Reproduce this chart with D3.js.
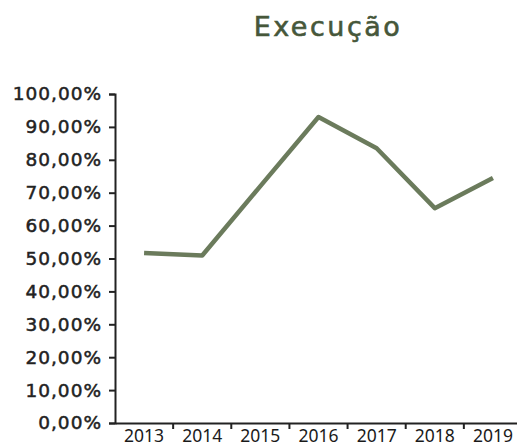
<!DOCTYPE html>
<html>
<head>
    <meta charset="utf-8">
    <title>Execução</title>
    <script src="https://d3js.org/d3.v7.min.js"></script>
    <style>
        body {
            margin: 0;
            background: #fff;
        }

        .title {
            font-family: "DejaVu Sans", Verdana, sans-serif;
            font-size: 27px;
            letter-spacing: 2.5px;
            fill: #46573a;
            stroke: #46573a;
            stroke-width: 0.6px;
        }

        .y-axis text {
            font-family: "DejaVu Sans", Verdana, sans-serif;
            font-size: 18.5px;
            letter-spacing: 1px;
            fill: #222;
            stroke: #222;
            stroke-width: 0.5px;
        }

        .x-axis text {
            font-family: "Noto Sans", "Open Sans", sans-serif;
            font-size: 17.5px;
            fill: #1a1a1a;
        }

        .domain, .tick line {
            stroke: #222;
            stroke-width: 2px;
        }

        .serie {
            fill: none;
            stroke: #6b7b5c;
            stroke-width: 4.5px;
            stroke-linejoin: round;
        }
    </style>
</head>
<body>
    <div id="chart"></div>

    <script>
        // Dados
        const anos = ["2013", "2014", "2015", "2016", "2017", "2018", "2019"];
        const execucao = [51.7, 50.9, 72.0, 93.0, 83.5, 65.3, 74.5];
        const yTicks = [0, 10, 20, 30, 40, 50, 60, 70, 80, 90, 100];

        const width = 517;
        const height = 448;

        const svg = d3.select("#chart")
            .append("svg")
            .attr("width", width)
            .attr("height", height);

        const x = d3.scaleBand()
            .domain(anos)
            .range([115, 522]);

        const y = d3.scaleLinear()
            .domain([0, 100])
            .range([423, 94]);

        // Título
        svg.append("text")
            .attr("class", "title")
            .attr("x", 328)
            .attr("y", 36)
            .attr("text-anchor", "middle")
            .text("Execução");

        // Eixo Y
        const fmt = d => d.toFixed(2).replace(".", ",") + "%";
        svg.append("g")
            .attr("class", "y-axis")
            .attr("transform", "translate(115,0)")
            .call(d3.axisLeft(y)
                .tickValues(yTicks)
                .tickSize(6)
                .tickSizeOuter(6)
                .tickPadding(7)
                .tickFormat(fmt));

        // Eixo X (traços entre categorias)
        const xAxis = svg.append("g")
            .attr("class", "x-axis")
            .attr("transform", "translate(0,423)")
            .call(d3.axisBottom(x).tickSize(0).tickSizeOuter(0).tickPadding(7));

        xAxis.selectAll(".tick line").remove();
        xAxis.selectAll(".boundary")
            .data(anos.slice(1))
            .join("line")
            .attr("class", "boundary")
            .attr("x1", d => x(d))
            .attr("x2", d => x(d))
            .attr("y1", 0)
            .attr("y2", 6)
            .attr("stroke", "#222")
            .attr("stroke-width", 2);

        // Linha
        const line = d3.line()
            .x((d, i) => x(anos[i]) + x.bandwidth() / 2)
            .y(d => y(d));

        svg.append("path")
            .datum(execucao)
            .attr("class", "serie")
            .attr("d", line);
    </script>
</body>
</html>
